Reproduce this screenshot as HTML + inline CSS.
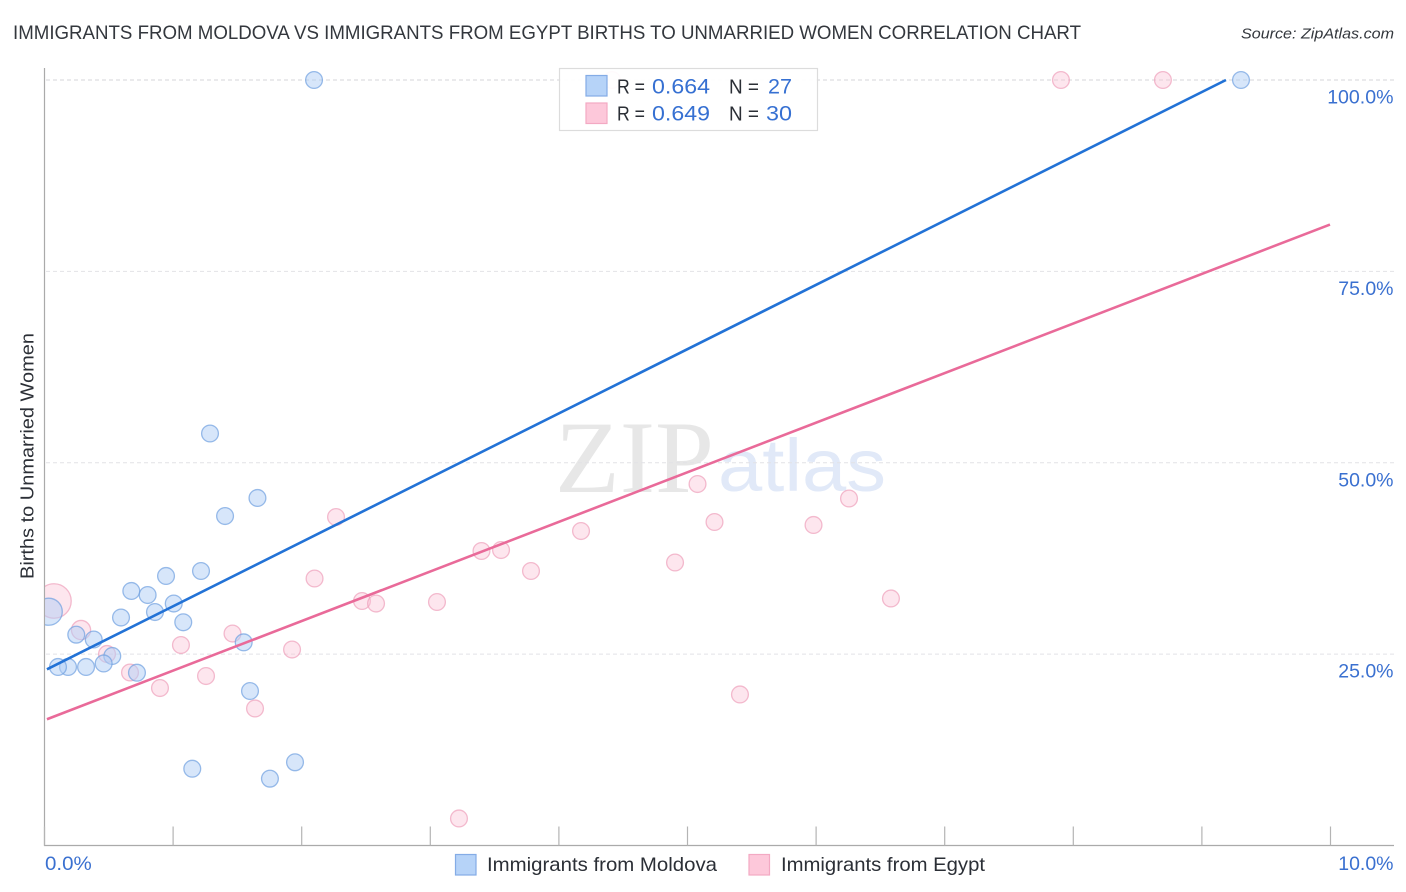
<!DOCTYPE html>
<html lang="en">
<head>
<meta charset="utf-8">
<title>Immigrants from Moldova vs Immigrants from Egypt Births to Unmarried Women Correlation Chart</title>
<style>
html,body{margin:0;padding:0;background:#fff;width:1406px;height:892px;overflow:hidden}
svg{display:block;font-family:"Liberation Sans",sans-serif}
</style>
</head>
<body>
<svg id="chart" xmlns="http://www.w3.org/2000/svg" width="1406" height="892" viewBox="0 0 1406 892">
  <defs>
    <clipPath id="plot-clip"><rect x="45" y="60" width="1350" height="786"/></clipPath>
  </defs>
  <rect x="0" y="0" width="1406" height="892" fill="#fff"/>
  <text x="13" y="39" font-size="19.5" fill="#33373d" textLength="1068" lengthAdjust="spacingAndGlyphs">IMMIGRANTS FROM MOLDOVA VS IMMIGRANTS FROM EGYPT BIRTHS TO UNMARRIED WOMEN CORRELATION CHART</text>
  <text x="1241" y="38.5" font-size="15" font-style="italic" fill="#33373d" textLength="153" lengthAdjust="spacingAndGlyphs">Source: ZipAtlas.com</text>
  <g>
    <text x="555" y="492" font-family="'Liberation Serif',serif" font-size="103" fill="#e7e7e7" textLength="159" lengthAdjust="spacingAndGlyphs">ZIP</text>
    <text x="718" y="491" font-size="74" fill="#e1e9f8" textLength="168" lengthAdjust="spacingAndGlyphs">atlas</text>
  </g>
  <g id="grid"></g>
  <g id="axes"></g>
  <g id="marks" clip-path="url(#plot-clip)"></g>
  <text transform="translate(33.5,456) rotate(-90)" text-anchor="middle" font-size="18.5" fill="#2b2f36" textLength="246" lengthAdjust="spacingAndGlyphs">Births to Unmarried Women</text>
  <g>
    <rect x="559.5" y="68.5" width="258" height="62" fill="#fff" fill-opacity="0.93" stroke="#dcdcdc" stroke-width="1.2"/>
    <rect x="586" y="75.5" width="21" height="20.5" fill="#b6d3f8" stroke="#84ace6" stroke-width="1.2"/>
    <rect x="586" y="103" width="21" height="20.5" fill="#fdc8da" stroke="#f3a9c3" stroke-width="1.2"/>
    <g font-size="20.5" fill="#2b2f36">
      <text x="617" y="93.5" textLength="28" lengthAdjust="spacingAndGlyphs">R =</text>
      <text x="729" y="93.5" textLength="30" lengthAdjust="spacingAndGlyphs">N =</text>
      <text x="617" y="120.5" textLength="28" lengthAdjust="spacingAndGlyphs">R =</text>
      <text x="729" y="120.5" textLength="30" lengthAdjust="spacingAndGlyphs">N =</text>
    </g>
    <g font-size="21.5" fill="#3670d2">
      <text x="652" y="93.5" textLength="58" lengthAdjust="spacingAndGlyphs">0.664</text>
      <text x="768" y="93.5" textLength="24" lengthAdjust="spacingAndGlyphs">27</text>
      <text x="652" y="120.5" textLength="58" lengthAdjust="spacingAndGlyphs">0.649</text>
      <text x="766" y="120.5" textLength="26" lengthAdjust="spacingAndGlyphs">30</text>
    </g>
  </g>
  <g>
    <rect x="455.5" y="854.5" width="20.5" height="20.5" fill="#b6d3f8" stroke="#84ace6" stroke-width="1.2"/>
    <text x="487" y="871" font-size="19.5" fill="#2b2f36" textLength="230" lengthAdjust="spacingAndGlyphs">Immigrants from Moldova</text>
    <rect x="749" y="854.5" width="20.5" height="20.5" fill="#fdc8da" stroke="#f3a9c3" stroke-width="1.2"/>
    <text x="781" y="871" font-size="19.5" fill="#2b2f36" textLength="204" lengthAdjust="spacingAndGlyphs">Immigrants from Egypt</text>
  </g>
</svg>
<script>
var yTickValues = [25, 50, 75, 100];
var yTickLabels = ["25.0%", "50.0%", "75.0%", "100.0%"];
var xTickValues = [0, 1, 2, 3, 4, 5, 6, 7, 8, 9, 10];
var xEndLabels = ["0.0%", "10.0%"];

var moldovaX = [2.096, 9.304, 1.287, 1.656, 1.404, 1.217, 0.945, 0.675, 0.802, 1.005, 0.859, 0.595, 1.079, 0.247, 0.383, 1.549, 0.527, 0.460, 0.323, 0.183, 0.105, 0.719, 1.598, 1.149, 1.753, 1.948, 0.033];
var moldovaY = [100, 100, 53.82, 45.40, 43.04, 35.86, 35.21, 33.25, 32.72, 31.61, 30.50, 29.78, 29.16, 27.54, 26.91, 26.54, 24.76, 23.78, 23.32, 23.32, 23.32, 22.57, 20.18, 10.03, 8.73, 10.87, 30.54];
var moldovaWeight = [1, 1, 1, 1, 1, 1, 1, 1, 1, 1, 1, 1, 1, 1, 1, 1, 1, 1, 1, 1, 1, 1, 1, 1, 1, 1, 2.6];

var egyptX = [7.904, 8.697, 4.413, 2.267, 5.078, 6.256, 5.210, 5.980, 4.172, 3.398, 3.550, 3.783, 4.903, 2.100, 6.582, 2.469, 2.578, 3.052, 0.074, 0.284, 1.462, 1.061, 1.925, 0.486, 0.665, 1.256, 0.898, 5.408, 1.637, 3.223];
var egyptY = [100, 100, 100, 42.91, 47.22, 45.33, 42.26, 41.87, 41.08, 38.47, 38.60, 35.86, 36.97, 34.88, 32.27, 31.94, 31.61, 31.81, 31.94, 28.15, 27.69, 26.19, 25.60, 25.02, 22.60, 22.14, 20.57, 19.73, 17.90, 3.53];
var egyptWeight = [1, 1, 1, 1, 1, 1, 1, 1, 1, 1, 1, 1, 1, 1, 1, 1, 1, 1, 4.2, 1.3, 1, 1, 1, 1, 1, 1, 1, 1, 1, 1];

var moldovaTrendX = [0.019, 9.187];
var moldovaTrendY = [23.02, 100];
var egyptTrendX = [0.019, 9.996];
var egyptTrendY = [16.49, 81.12];

var NS = "http://www.w3.org/2000/svg";
function xScale(v) { return 44.5 + v * 128.6; }
function yScale(v) { return 845.5 - v * 7.655; }
function labelWidth(s) { return s.length * 11.05; }
function make(tag, attrs, parent) {
  var el = document.createElementNS(NS, tag);
  for (var k in attrs) { el.setAttribute(k, attrs[k]); }
  parent.appendChild(el);
  return el;
}
var grid = document.getElementById("grid");
var axes = document.getElementById("axes");
var marks = document.getElementById("marks");

yTickValues.forEach(function (v, i) {
  var y = yScale(v);
  var g = make("line", { x1: 46, x2: 1394, y1: y, y2: y, stroke: v === 100 ? "#d4d4d8" : "#e2e2e6", "stroke-width": 1, "stroke-dasharray": "4 3" }, grid);
  
  
  var t = make("text", { x: 1393.5, y: y + 23.5, "text-anchor": "end", "font-size": 19.5, fill: "#3a70d0", textLength: labelWidth(yTickLabels[i]), lengthAdjust: "spacingAndGlyphs" }, axes);
  t.textContent = yTickLabels[i];
  
  
});

var yAxisLine = make("line", { x1: 44.5, x2: 44.5, y1: 68, y2: 846, stroke: "#aaaaaa", "stroke-width": 1.2 }, axes);


var xAxisLine = make("line", { x1: 44, x2: 1394, y1: 845.5, y2: 845.5, stroke: "#aaaaaa", "stroke-width": 1.2 }, axes);



xTickValues.forEach(function (v) {
  var x = xScale(v);
  var tick = make("line", { x1: x, x2: x, y1: 826.5, y2: 845.5, stroke: "#b4b4b4", "stroke-width": 1.2 }, axes);
  
  
});

var xLabelLeft = make("text", { x: 45, y: 870, "font-size": 19.5, fill: "#3a70d0", textLength: labelWidth(xEndLabels[0]) + 2.5, lengthAdjust: "spacingAndGlyphs" }, axes);
xLabelLeft.textContent = xEndLabels[0];


var xLabelRight = make("text", { x: 1393.5, y: 870, "text-anchor": "end", "font-size": 19.5, fill: "#3a70d0", textLength: labelWidth(xEndLabels[1]), lengthAdjust: "spacingAndGlyphs" }, axes);
xLabelRight.textContent = xEndLabels[1];



function radius(w) { return 8.4 * Math.sqrt(w); }

egyptX.forEach(function (v, i) {
  var c = make("circle", { cx: xScale(v), cy: yScale(egyptY[i]), r: radius(egyptWeight[i]), fill: "#fbc4d6", "fill-opacity": 0.42, stroke: "#eea0bb", "stroke-opacity": 0.7, "stroke-width": 1.3 }, marks);
  
  
});
moldovaX.forEach(function (v, i) {
  var c = make("circle", { cx: xScale(v), cy: yScale(moldovaY[i]), r: radius(moldovaWeight[i]), fill: "#b3d0f5", "fill-opacity": 0.52, stroke: "#6f9fe0", "stroke-opacity": 0.7, "stroke-width": 1.3 }, marks);
  
  
});

var moldovaTrend = make("line", { x1: xScale(moldovaTrendX[0]), y1: yScale(moldovaTrendY[0]), x2: xScale(moldovaTrendX[1]), y2: yScale(moldovaTrendY[1]), stroke: "#2272d6", "stroke-width": 2.6 }, marks);


var egyptTrend = make("line", { x1: xScale(egyptTrendX[0]), y1: yScale(egyptTrendY[0]), x2: xScale(egyptTrendX[1]), y2: yScale(egyptTrendY[1]), stroke: "#e96a99", "stroke-width": 2.6 }, marks);


</script>
</body>
</html>
